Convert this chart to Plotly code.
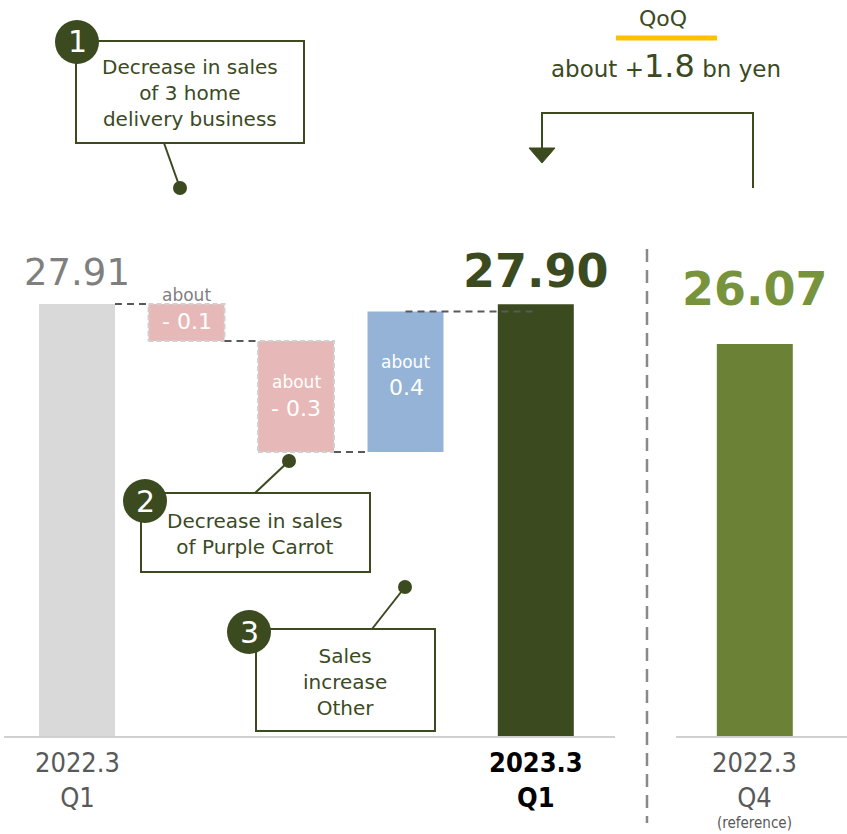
import plotly.graph_objects as go

# ---------------- data ----------------
categories = ["2022.3<br>Q1", "2023.3<br>Q1", "2022.3<br>Q4"]
totals = [27.91, 27.90, 26.07]
total_labels = ["27.91", "27.90", "26.07"]
deltas = [-0.1, -0.3, 0.38]           # approximate bridge steps (schematic)
delta_labels = ["- 0.1", "- 0.3", "0.4"]
qoq_change = 1.8
notes = ["Decrease in sales<br>of 3 home<br>delivery business",
         "Decrease in sales<br>of Purple Carrot",
         "Sales<br>increase<br>Other"]

# ---------------- layout helpers ----------------
W, H = 847, 834
PB = 97
PH = H - PB
DARK = "#3b4a1f"
OLIVE = "#6b8135"
OLIVE_TXT = "#77933c"
GRAY_BAR = "#d9d9d9"
PINK = "#e6b9b8"
BLUE = "#95b3d7"
FONT = "DejaVu Sans"
COND = "DejaVu Sans Condensed"

def PX(p):
    return p / W

def PY(p):
    return (PH - p) / PH

total_pos = [0, 4.19, 6.19]
delta_pos = [1, 2, 3]
BW = 0.694
x_range = [-77 / 109.5, 770 / 109.5]
y_range = [7.992, 41.894]
y2_range = [26.7397, 28.7316]

fig = go.Figure()

# totals
fig.add_trace(go.Bar(x=total_pos, y=totals, width=BW,
                     marker=dict(color=[GRAY_BAR, DARK, OLIVE], line=dict(width=0)),
                     hoverinfo="skip"))

# bridge steps
level = totals[0]
bases, heights, tops, bottoms = [], [], [], []
for d in deltas:
    new = level + d
    lo, hi = min(level, new), max(level, new)
    bases.append(lo)
    heights.append(hi - lo)
    bottoms.append(lo)
    tops.append(hi)
    level = new
colors = [PINK if d < 0 else BLUE for d in deltas]
fig.add_trace(go.Bar(x=delta_pos, y=heights, base=bases, width=BW, yaxis="y2",
                     marker=dict(color=colors, line=dict(width=0)), hoverinfo="skip"))

# dashed borders of negative steps
for xp, d, lo, hi in zip(delta_pos, deltas, bottoms, tops):
    if d < 0:
        l, r = xp - BW / 2, xp + BW / 2
        fig.add_trace(go.Scatter(x=[l, r, r, l, l], y=[lo, lo, hi, hi, lo], yaxis="y2",
                                 mode="lines", line=dict(color="#d0d0d0", width=2, dash="5px,3px"),
                                 hoverinfo="skip"))

# connectors
cx, cy = [], []
lev = totals[0]
prev_right = total_pos[0] + BW / 2
for xp, d in zip(delta_pos, deltas):
    cx += [prev_right, xp - BW / 2, None]
    cy += [lev, lev, None]
    lev = lev + d
    prev_right = xp + BW / 2
cx += [delta_pos[-1], total_pos[1], None]
cy += [lev, lev, None]
fig.add_trace(go.Scatter(x=cx, y=cy, yaxis="y2", mode="lines",
                         line=dict(color="#595959", width=2, dash="7px,5px"),
                         hoverinfo="skip", connectgaps=False))

annotations = []
# total value labels
lab_fonts = [dict(size=37, color="#7f7f7f", family=FONT),
             dict(size=46, color=DARK, family=FONT),
             dict(size=46, color=OLIVE_TXT, family=FONT)]
lab_text = [total_labels[0], "<b>" + total_labels[1] + "</b>", "<b>" + total_labels[2] + "</b>"]
lab_shift = [32, 33, 55]
for xp, v, t, f, s in zip(total_pos, totals, lab_text, lab_fonts, lab_shift):
    annotations.append(dict(x=xp, y=v, xref="x", yref="y", text=t, showarrow=False,
                            font=f, xanchor="center", yanchor="middle", yshift=s))

# step labels
for i, (xp, d, lo, hi, lab) in enumerate(zip(delta_pos, deltas, bottoms, tops, delta_labels)):
    mid = (lo + hi) / 2
    if i == 0:
        annotations.append(dict(x=xp, y=hi, xref="x", yref="y2", text="about", showarrow=False,
                                font=dict(size=17, color="#7f7f7f", family=FONT),
                                xanchor="center", yanchor="middle", yshift=9))
        annotations.append(dict(x=xp, y=mid, xref="x", yref="y2", text=lab, showarrow=False,
                                font=dict(size=22, color="white", family=FONT),
                                xanchor="center", yanchor="middle", yshift=1))
    else:
        annotations.append(dict(x=xp, y=mid, xref="x", yref="y2", text="about", showarrow=False,
                                font=dict(size=17, color="white", family=FONT),
                                xanchor="center", yanchor="middle", yshift=14 + (6 if d > 0 else 0)))
        annotations.append(dict(x=xp + (0.01 if d > 0 else 0), y=mid, xref="x", yref="y2",
                                text=lab, showarrow=False,
                                font=dict(size=22, color="white", family=FONT),
                                xanchor="center", yanchor="middle", yshift=-12 + (6 if d > 0 else 0)))

# category labels
cat_fonts = [dict(size=27, color="#595959", family=COND),
             dict(size=27, color="#000000", family=COND),
             dict(size=27, color="#595959", family=COND)]
for xp, c, f in zip(total_pos, categories, cat_fonts):
    txt = "<b>" + c + "</b>" if f["color"] == "#000000" else c
    annotations.append(dict(x=xp, y=PY(780), xref="x", yref="paper", text=txt, showarrow=False,
                            font=f, xanchor="center", yanchor="middle", borderpad=0))
annotations.append(dict(x=total_pos[2], y=PY(823), xref="x", yref="paper", text="(reference)",
                        showarrow=False, font=dict(size=15, color="#595959", family=COND),
                        xanchor="center", yanchor="middle", borderpad=0))

shapes = []
# axis line segments
shapes.append(dict(type="line", xref="paper", yref="paper", x0=PX(4), x1=PX(615), y0=PY(737), y1=PY(737),
                   line=dict(color="#d0d0d0", width=2)))
shapes.append(dict(type="line", xref="paper", yref="paper", x0=PX(676), x1=PX(847), y0=PY(737), y1=PY(737),
                   line=dict(color="#d0d0d0", width=2)))
# separator
shapes.append(dict(type="line", xref="paper", yref="paper", x0=PX(647), x1=PX(647), y0=PY(249), y1=PY(823),
                   line=dict(color="#888888", width=2.5, dash="13px,8px")))

# callouts
callouts = [
    dict(box=(76, 41, 304, 143), circ=(77, 42), lead=(164, 143, 180, 188), text_c=(190, 93), num="1"),
    dict(box=(141, 493, 370, 572), circ=(145, 501), lead=(255, 493, 289, 461), text_c=(255, 534), num="2"),
    dict(box=(256, 629, 435, 731), circ=(249, 632), lead=(372, 629, 405, 587), text_c=(345, 682), num="3"),
]
for co, note in zip(callouts, notes):
    x0, y0, x1, y1 = co["box"]
    shapes.append(dict(type="rect", xref="paper", yref="paper", x0=PX(x0), x1=PX(x1), y0=PY(y1), y1=PY(y0),
                       line=dict(color=DARK, width=2), fillcolor="white", layer="above"))
    lx0, ly0, lx1, ly1 = co["lead"]
    shapes.append(dict(type="line", xref="paper", yref="paper", x0=PX(lx0), x1=PX(lx1), y0=PY(ly0), y1=PY(ly1),
                       line=dict(color=DARK, width=2), layer="above"))
    r = 7
    shapes.append(dict(type="circle", xref="paper", yref="paper", x0=PX(lx1 - r), x1=PX(lx1 + r),
                       y0=PY(ly1 + r), y1=PY(ly1 - r), fillcolor=DARK, line=dict(width=0), layer="above"))
    ccx, ccy = co["circ"]
    R = 22
    shapes.append(dict(type="circle", xref="paper", yref="paper", x0=PX(ccx - R), x1=PX(ccx + R),
                       y0=PY(ccy + R), y1=PY(ccy - R), fillcolor=DARK, line=dict(width=0), layer="above"))
    annotations.append(dict(x=PX(ccx), y=PY(ccy), xref="paper", yref="paper", text=co["num"],
                            showarrow=False, font=dict(size=30, color="white", family=FONT),
                            xanchor="center", yanchor="middle"))
    tx, ty = co["text_c"]
    annotations.append(dict(x=PX(tx), y=PY(ty), xref="paper", yref="paper", text=note,
                            showarrow=False, font=dict(size=20, color=DARK, family=FONT),
                            xanchor="center", yanchor="middle"))

# QoQ header
annotations.append(dict(x=PX(663), y=PY(19), xref="paper", yref="paper", text="QoQ", showarrow=False,
                        font=dict(size=22, color=DARK, family=FONT), xanchor="center", yanchor="middle"))
shapes.append(dict(type="line", xref="paper", yref="paper", x0=PX(616), x1=PX(717), y0=PY(38), y1=PY(38),
                   line=dict(color="#ffc000", width=5)))
annotations.append(dict(x=PX(666), y=PY(66), xref="paper", yref="paper",
                        text=f"about +<span style='font-size:32px'>{qoq_change:.1f}</span> bn yen",
                        showarrow=False, font=dict(size=23, color=DARK, family=FONT),
                        xanchor="center", yanchor="middle"))
# arrow
pts = [(753, 188), (753, 113), (542, 113), (542, 150)]
path = "M " + " L ".join(f"{PX(a)},{PY(b)}" for a, b in pts)
shapes.append(dict(type="path", xref="paper", yref="paper", path=path, line=dict(color=DARK, width=2)))
tri = [(529, 148), (555, 148), (542, 163)]
path = "M " + " L ".join(f"{PX(a)},{PY(b)}" for a, b in tri) + " Z"
shapes.append(dict(type="path", xref="paper", yref="paper", path=path, fillcolor=DARK, line=dict(color=DARK, width=1)))

fig.update_layout(
    width=W, height=H,
    margin=dict(l=0, r=0, t=0, b=PB),
    paper_bgcolor="white", plot_bgcolor="white",
    showlegend=False, barmode="overlay",
    xaxis=dict(range=x_range, visible=False, fixedrange=True),
    yaxis=dict(range=y_range, visible=False, fixedrange=True),
    yaxis2=dict(range=y2_range, visible=False, overlaying="y", fixedrange=True),
    annotations=annotations, shapes=shapes,
    font=dict(family=FONT),
)

fig.write_html("out.html", config={"displayModeBar": False})
